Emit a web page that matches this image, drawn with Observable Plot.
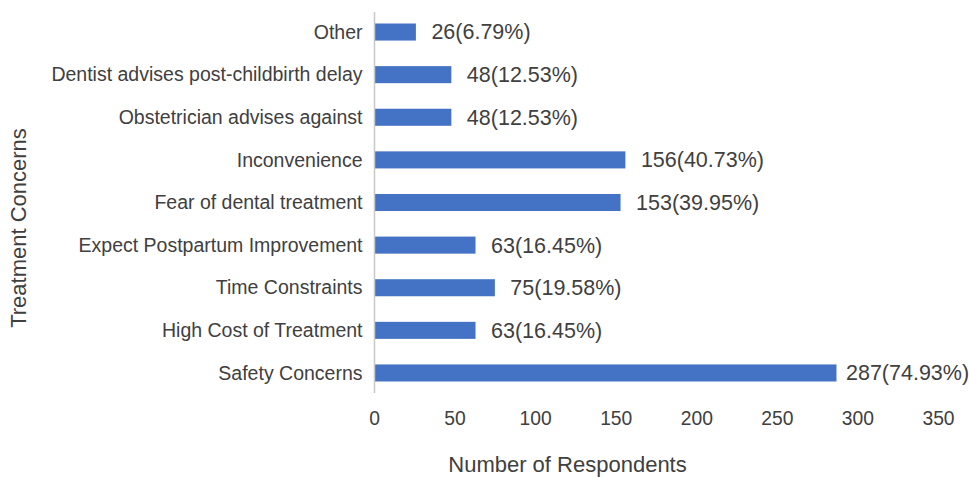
<!DOCTYPE html>
<html>
<head>
<meta charset="utf-8">
<script src="https://cdn.jsdelivr.net/npm/d3@7"></script>
<script src="https://cdn.jsdelivr.net/npm/@observablehq/plot@0.6"></script>
<style>
  html, body { margin: 0; padding: 0; background: #fff; }
  #chart svg { display: block; font-family: "Liberation Sans", Arial, sans-serif; }
</style>
</head>
<body>
<div id="chart"></div>
<script>
// Treatment concerns, listed top to bottom
const concerns = [
  "Other",
  "Dentist advises post-childbirth delay",
  "Obstetrician advises against",
  "Inconvenience",
  "Fear of dental treatment",
  "Expect Postpartum Improvement",
  "Time Constraints",
  "High Cost of Treatment",
  "Safety Concerns"
];
const respondents = [26, 48, 48, 156, 153, 63, 75, 63, 287];
const percents = ["6.79%", "12.53%", "12.53%", "40.73%", "39.95%", "16.45%", "19.58%", "16.45%", "74.93%"];
const xTicks = [0, 50, 100, 150, 200, 250, 300, 350];

const rows = concerns.map((c, i) => ({
  concern: c,
  n: respondents[i],
  label: `${respondents[i]}(${percents[i]})`
}));

const textColor = "#404040";
// the longest bar keeps its label tucked closer so it fits inside the page
const isLong = d => d.n > 250;

const chart = Plot.plot({
  width: 969,
  height: 477,
  marginLeft: 374,
  marginRight: 31,
  marginTop: 12,
  marginBottom: 84,
  style: { fontFamily: "'Liberation Sans', Arial, sans-serif", color: textColor, background: "#fff" },
  x: { domain: [0, 350] },
  y: { domain: concerns, paddingInner: 0.6, paddingOuter: 0.27, round: false },
  marks: [
    Plot.barX(rows, { y: "concern", x: "n", fill: "#4472C4" }),
    Plot.ruleX([0], { stroke: "#c8c8c8", strokeWidth: 1.5 }),
    Plot.text(rows.filter(d => !isLong(d)), {
      y: "concern", x: "n", text: "label",
      textAnchor: "start", dx: 15, fontSize: 21.5, fill: textColor
    }),
    Plot.text(rows.filter(isLong), {
      y: "concern", x: "n", text: "label",
      textAnchor: "start", dx: 9, fontSize: 21.5, fill: textColor
    }),
    Plot.axisY({ tickSize: 0, tickPadding: 12, fontSize: 19.5, label: null, fill: textColor }),
    Plot.axisX({ ticks: xTicks, tickSize: 0, tickPadding: 18, fontSize: 19.3, label: null, fill: textColor }),
    Plot.text(["Number of Respondents"], {
      frameAnchor: "bottom-left", textAnchor: "middle", lineAnchor: "middle",
      dx: 193, dy: 71, fontSize: 22, fill: textColor
    }),
    Plot.text(["Treatment Concerns"], {
      frameAnchor: "left", textAnchor: "middle", lineAnchor: "middle",
      dx: -356, dy: 25, rotate: -90, fontSize: 22, fill: textColor
    })
  ]
});

document.getElementById("chart").appendChild(chart);
</script>
</body>
</html>
